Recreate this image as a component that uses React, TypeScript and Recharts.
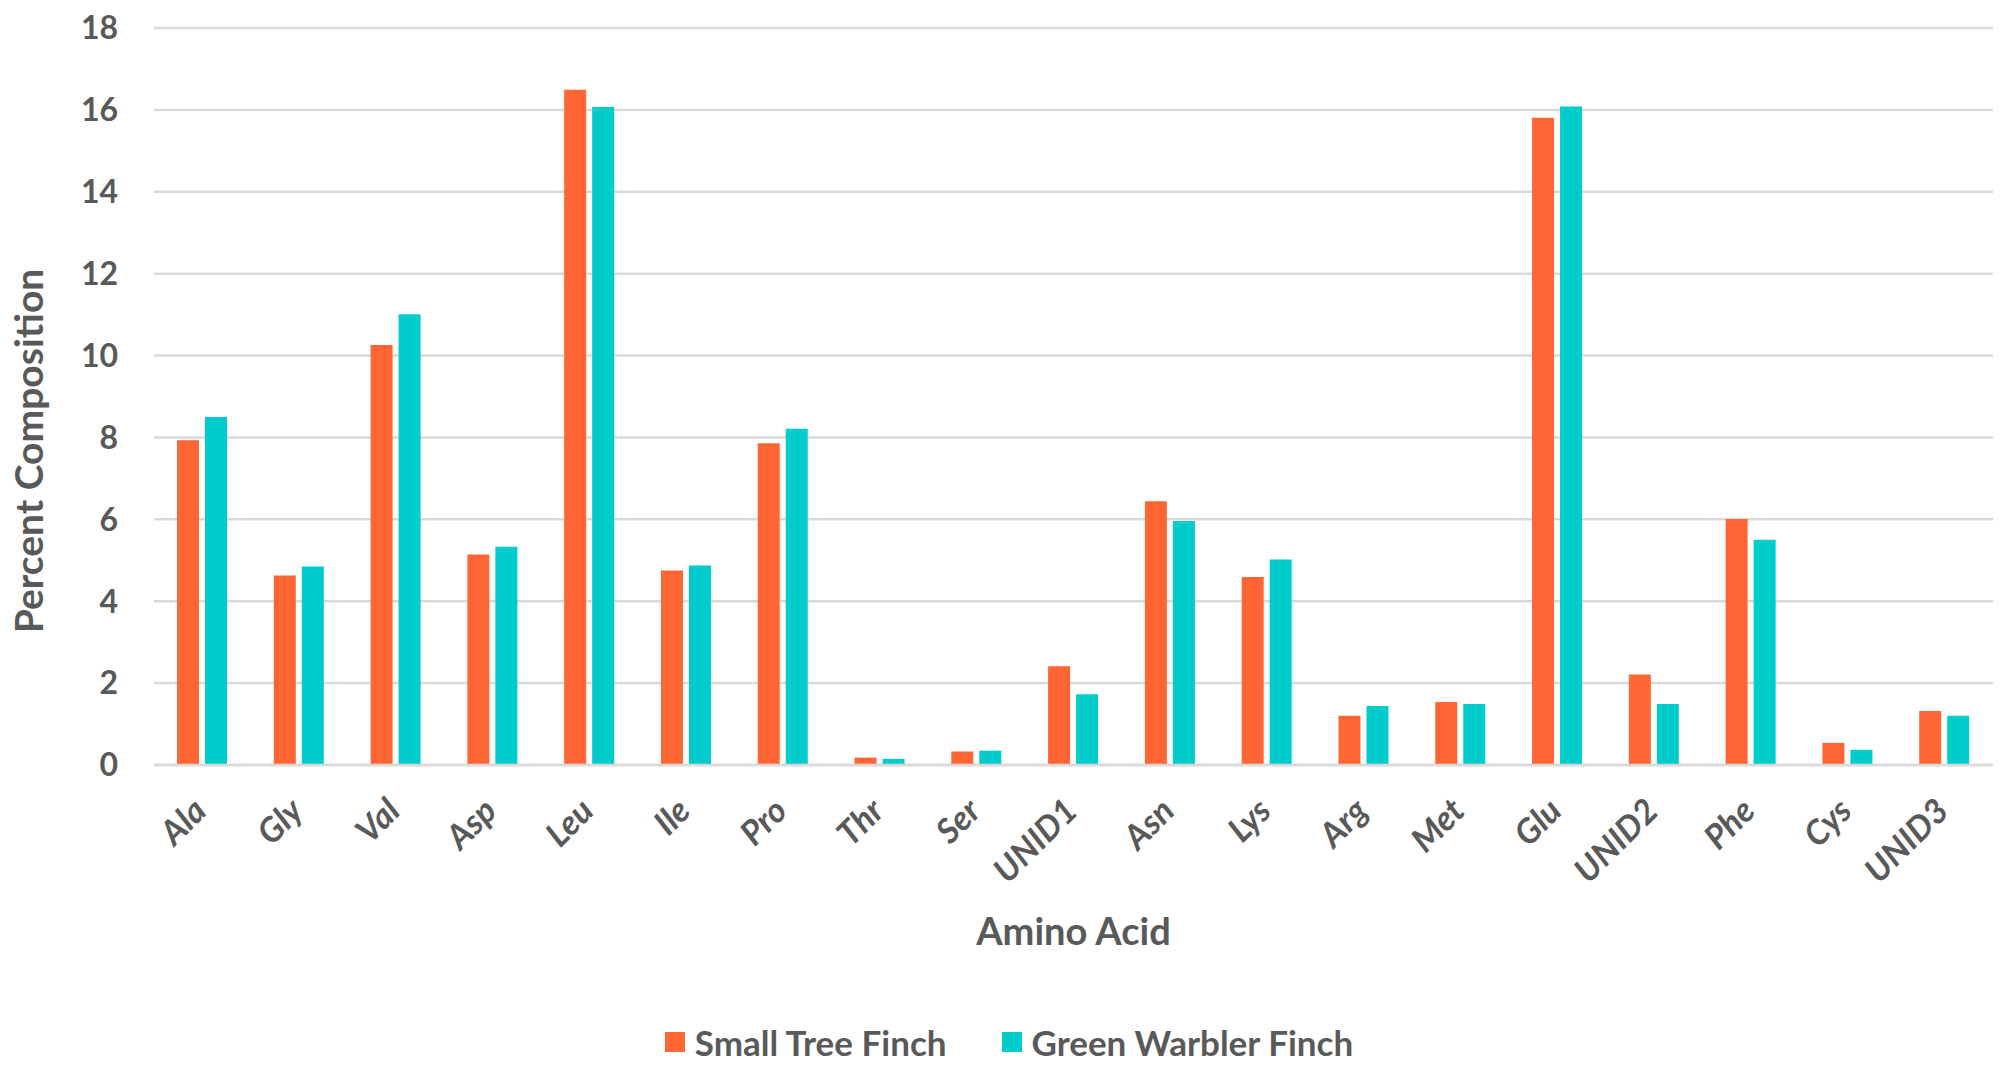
import {
  Bar,
  BarChart,
  CartesianGrid,
  Label,
  Legend,
  XAxis,
  YAxis,
} from "recharts";

const aminoAcids = [
  "Ala", "Gly", "Val", "Asp", "Leu", "Ile", "Pro", "Thr", "Ser", "UNID1",
  "Asn", "Lys", "Arg", "Met", "Glu", "UNID2", "Phe", "Cys", "UNID3",
];

const smallTreeFinch = [
  7.93, 4.63, 10.26, 5.14, 16.49, 4.75, 7.86, 0.18, 0.33, 2.41,
  6.44, 4.59, 1.2, 1.54, 15.81, 2.21, 6.01, 0.54, 1.32,
];

const greenWarblerFinch = [
  8.5, 4.85, 11.01, 5.33, 16.07, 4.87, 8.21, 0.15, 0.35, 1.73,
  5.96, 5.02, 1.44, 1.49, 16.08, 1.49, 5.5, 0.37, 1.2,
];

const seriesNames = ["Small Tree Finch", "Green Warbler Finch"];

const yTicks = [0, 2, 4, 6, 8, 10, 12, 14, 16, 18];

const data = aminoAcids.map((name, i) => ({
  name,
  smallTree: smallTreeFinch[i],
  greenWarbler: greenWarblerFinch[i],
}));

const FONT = "Lato, 'Open Sans', sans-serif";
const TEXT = "#595959";
const GRID = "#D9D9D9";

// rotated category labels, end of text sits just under the category
function AngledTick({ x, y, payload }: any) {
  return (
    <g transform={`translate(${x + 6},${y + 40})`}>
      <text
        textAnchor="end"
        transform="rotate(-45)"
        fill={TEXT}
        fontSize={34}
        fontStyle="italic"
        fontWeight={700}
        fontFamily={FONT}
      >
        {payload.value}
      </text>
    </g>
  );
}

function LegendContent({ payload }: any) {
  // keep series order (recharts sorts by name otherwise)
  const items = [...(payload || [])].sort(
    (a: any, b: any) => seriesNames.indexOf(a.value) - seriesNames.indexOf(b.value)
  );
  return (
    <div
      style={{
        display: "flex",
        justifyContent: "center",
        alignItems: "center",
        height: 60,
        paddingTop: 26,
        paddingLeft: 12,
        boxSizing: "border-box",
        fontFamily: FONT,
      }}
    >
      {items.map((entry: any, i: number) => (
        <div
          key={entry.value}
          style={{
            display: "flex",
            alignItems: "center",
            marginLeft: i === 0 ? 0 : 55,
          }}
        >
          <span
            style={{
              width: 20,
              height: 20,
              background: entry.color,
              marginRight: 10,
              display: "inline-block",
            }}
          />
          <span style={{ fontSize: 35, fontWeight: 700, color: TEXT }}>
            {entry.value}
          </span>
        </div>
      ))}
    </div>
  );
}

export default function App() {
  return (
    <BarChart
      width={1990}
      height={1051}
      data={data}
      margin={{ top: 20, right: 5, bottom: 0, left: 0 }}
      barSize={22}
      barGap={6}
    >
      <CartesianGrid vertical={false} stroke={GRID} strokeWidth={2.5} />
      <XAxis
        dataKey="name"
        height={234}
        interval={0}
        tickLine={false}
        axisLine={{ stroke: GRID, strokeWidth: 2.5 }}
        tick={<AngledTick />}
      >
        <Label
          content={({ viewBox }: any) => (
            <text
              x={viewBox.x + viewBox.width / 2}
              y={viewBox.y + 180}
              textAnchor="middle"
              fill={TEXT}
              fontSize={38}
              fontWeight={700}
              fontFamily={FONT}
            >
              Amino Acid
            </text>
          )}
        />
      </XAxis>
      <YAxis
        width={146}
        domain={[0, 18]}
        ticks={yTicks}
        interval={0}
        tickLine={false}
        axisLine={false}
        tickMargin={30}
        tick={{ fill: TEXT, fontSize: 32, fontWeight: 700, fontFamily: FONT }}
      >
        <Label
          content={() => (
            <text
              x={35}
              y={443}
              transform="rotate(-90 35 443)"
              textAnchor="middle"
              fill={TEXT}
              fontSize={39}
              fontWeight={700}
              fontFamily={FONT}
            >
              Percent Composition
            </text>
          )}
        />
      </YAxis>
      <Legend
        verticalAlign="bottom"
        wrapperStyle={{ left: 0, width: 1990, height: 60 }}
        content={<LegendContent />}
      />
      <Bar
        dataKey="smallTree"
        name={seriesNames[0]}
        fill="#FF6633"
        isAnimationActive={false}
      />
      <Bar
        dataKey="greenWarbler"
        name={seriesNames[1]}
        fill="#00CCCC"
        isAnimationActive={false}
      />
    </BarChart>
  );
}
